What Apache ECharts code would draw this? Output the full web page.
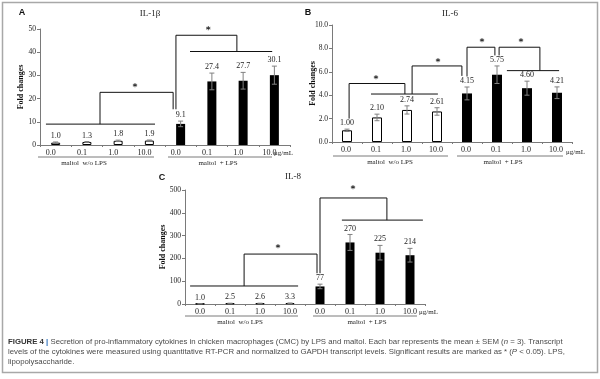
<!DOCTYPE html>
<html><head><meta charset="utf-8">
<script src="https://cdn.jsdelivr.net/npm/echarts@6/dist/echarts.min.js"></script>
<style>html,body{margin:0;padding:0;background:#fff}#c{width:600px;height:379px}</style>
</head><body><div id="c"></div><script>
// ---------- data ----------
const categories = ['0.0', '0.1', '1.0', '10.0', '0.0', '0.1', '1.0', '10.0'];
const lpsFlag = [0, 0, 0, 0, 1, 1, 1, 1];
const groupNames = ['maltol  w/o LPS', 'maltol  + LPS'];

const il1bValues = [1.0, 1.3, 1.8, 1.9, 9.1, 27.4, 27.7, 30.1];
const il1bErrors = [0.3, 0.2, 0.3, 0.25, 1.2, 3.6, 3.6, 3.9];
const il1bLabels = ['1.0', '1.3', '1.8', '1.9', '9.1', '27.4', '27.7', '30.1'];

const il6Values = [1.00, 2.10, 2.74, 2.61, 4.15, 5.75, 4.60, 4.21];
const il6Errors = [0.1, 0.28, 0.35, 0.32, 0.55, 0.75, 0.6, 0.5];
const il6Labels = ['1.00', '2.10', '2.74', '2.61', '4.15', '5.75', '4.60', '4.21'];

const il8Values = [1.0, 2.5, 2.6, 3.3, 77, 270, 225, 214];
const il8Errors = [0.5, 1, 1, 1.2, 10, 35, 32, 30];
const il8Labels = ['1.0', '2.5', '2.6', '3.3', '77', '270', '225', '214'];

const yTickLabelsA = ['0', '10', '20', '30', '40', '50'];
const yTickLabelsB = ['0.0', '2.0', '4.0', '6.0', '8.0', '10.0'];
const yTickLabelsC = ['0', '100', '200', '300', '400', '500'];

// significance brackets: [category position, value]
const bracketsA = [
  [[-0.31, 9.0], [3.18, 9.0]],
  [[1.42, 9.0], [1.42, 22.7], [3.76, 22.7], [3.76, 15.4]],
  [[3.85, 15.4], [3.85, 47.3], [5.8, 47.3], [5.8, 40.3]],
  [[4.3, 40.3], [6.93, 40.3]]
];
const starsA = [[2.54, 24.6], [4.88, 49.3]];

const bracketsB = [
  [[0.07, 2.0], [0.07, 5.0], [1.93, 5.0], [1.93, 4.1]],
  [[0.8, 4.1], [3.03, 4.1]],
  [[2.17, 4.1], [2.17, 6.5], [3.83, 6.5], [3.83, 5.65]],
  [[4.0, 5.6], [4.0, 8.1], [4.93, 8.1], [4.93, 7.4]],
  [[5.07, 7.4], [5.07, 8.1], [6.43, 8.1], [6.43, 6.1]],
  [[5.33, 6.1], [7.07, 6.1]]
];
const starsB = [[0.97, 5.3], [3.03, 6.8], [4.5, 8.5], [5.8, 8.5]];

const bracketsC = [
  [[-0.33, 79], [3.27, 79]],
  [[1.47, 79], [1.47, 219], [3.9, 219], [3.9, 135]],
  [[4.0, 135], [4.0, 465], [6.23, 465], [6.23, 368]],
  [[4.73, 368], [7.43, 368]]
];
const starsC = [[2.6, 245], [5.1, 500]];

// ---------- helpers ----------
const SERIF = '"Liberation Serif", "Times New Roman", serif';
const SANS = '"Liberation Sans", Arial, sans-serif';

function barData(values) {
  return values.map((v, i) => ({
    value: v,
    itemStyle: lpsFlag[i]
      ? { color: '#000', borderColor: '#000', borderWidth: 0 }
      : { color: '#fff', borderColor: '#000', borderWidth: 1 }
  }));
}
function errRender(labels) {
  return function (params, api) {
    const i = api.value(0), v = api.value(1), e = api.value(2);
    const t = api.coord([i, v + e]), b = api.coord([i, Math.max(0, v - e)]);
    const x = t[0], st = { stroke: '#808080', lineWidth: 1 };
    return {
      type: 'group', children: [
        { type: 'line', shape: { x1: x, y1: t[1], x2: x, y2: b[1] }, style: st },
        { type: 'line', shape: { x1: x - 2.5, y1: t[1], x2: x + 2.5, y2: t[1] }, style: st },
        { type: 'line', shape: { x1: x - 2.5, y1: b[1], x2: x + 2.5, y2: b[1] }, style: st },
        { type: 'text', x: x, y: t[1] - 2, style: { text: labels[params.dataIndex], align: 'center', verticalAlign: 'bottom', fontSize: 8, fontFamily: SERIF, fill: '#222' } }
      ]
    };
  };
}
function starRender(params, api) {
  const p = api.coord([api.value(0), api.value(1)]);
  return { type: 'text', x: p[0], y: p[1], style: { text: '*', align: 'center', verticalAlign: 'middle', fontSize: 9.5, fontFamily: '"DejaVu Sans", sans-serif', fontWeight: 'bold', fill: '#222' } };
}
function panel(idx, grid, yMax, yInt, tickLabels, nameGap, values, errors, labels, brackets, stars, labelShift) {
  const xAxes = [
    { type: 'category', gridIndex: idx, data: categories, boundaryGap: true,
      axisLine: { lineStyle: { color: '#7a7a7a', width: 1 } },
      axisTick: { show: true, length: 2, lineStyle: { color: '#7a7a7a' } },
      axisLabel: { fontSize: 8, fontFamily: SERIF, color: '#222', margin: 4, interval: 0,
        formatter: (v) => '{t|' + v + '}',
        rich: { t: { fontSize: 8, fontFamily: SERIF, color: '#222', padding: [0, labelShift * 2, 0, 0] } } } },
    { type: 'value', gridIndex: idx, min: -0.5, max: 7.5, show: false }
  ];
  const yAxis = { type: 'value', gridIndex: idx, min: 0, max: yMax, interval: yInt,
    name: 'Fold changes', nameLocation: 'middle', nameGap: nameGap, nameMoveOverlap: false,
    nameTextStyle: { fontSize: 8, fontWeight: 'bold', fontFamily: SERIF, color: '#111' },
    axisLine: { show: true, onZero: false, lineStyle: { color: '#7a7a7a', width: 1 } },
    axisTick: { show: true, length: 3, lineStyle: { color: '#7a7a7a' } },
    splitLine: { show: false },
    axisLabel: { fontSize: 7.5, fontFamily: SERIF, color: '#222', margin: 4,
      formatter: (v) => tickLabels[Math.round(v / yInt)] } };
  const series = [
    { type: 'bar', xAxisIndex: idx * 2, yAxisIndex: idx, data: barData(values), barWidth: grid.bw, silent: true },
    { type: 'custom', xAxisIndex: idx * 2, yAxisIndex: idx, renderItem: errRender(labels),
      data: values.map((v, i) => [i, v, errors[i]]), clip: false, z: 5 },
    { type: 'custom', xAxisIndex: idx * 2 + 1, yAxisIndex: idx, renderItem: starRender, data: stars, clip: false, z: 6 }
  ];
  brackets.forEach(br => series.push({
    type: 'line', xAxisIndex: idx * 2 + 1, yAxisIndex: idx, data: br, symbol: 'none', clip: false,
    lineStyle: { color: '#111', width: 1 }, silent: true, z: 4, animation: false
  }));
  return { xAxes, yAxis, series };
}

const grids = [
  { left: 40, top: 29, width: 250, height: 116, bw: 9 },
  { left: 332, top: 25, width: 240, height: 117, bw: 10 },
  { left: 185, top: 190, width: 240, height: 114, bw: 9 }
];
const pA = panel(0, grids[0], 50, 10, yTickLabelsA, 15, il1bValues, il1bErrors, il1bLabels, bracketsA, starsA, 5);
const pB = panel(1, grids[1], 10, 2, yTickLabelsB, 15, il6Values, il6Errors, il6Labels, bracketsB, starsB, 1);
const pC = panel(2, grids[2], 500, 100, yTickLabelsC, 18, il8Values, il8Errors, il8Labels, bracketsC, starsC, 0);

function txt(x, y, s, size, font, weight, color, align) {
  return { type: 'text', x: x, y: y, silent: true,
    style: { text: s, fontSize: size, fontFamily: font, fontWeight: weight || 'normal', fill: color || '#222', align: align || 'center', verticalAlign: 'middle' } };
}
function uline(x1, x2, y) {
  return { type: 'line', silent: true, shape: { x1: x1, y1: y, x2: x2, y2: y }, style: { stroke: '#7a7a7a', lineWidth: 1 } };
}

const graphics = [
  { type: 'rect', silent: true, shape: { x: 2.5, y: 2.5, width: 595, height: 370 }, style: { fill: 'none', stroke: '#a8a8a8', lineWidth: 1.5 } },
  txt(22, 13, 'A', 9, SANS, 'bold', '#111'),
  txt(308, 13, 'B', 9, SANS, 'bold', '#111'),
  txt(162, 178, 'C', 9, SANS, 'bold', '#111'),
  txt(150, 14, 'IL-1β', 9, SERIF, 'normal', '#222'),
  txt(450, 14, 'IL-6', 9, SERIF, 'normal', '#222'),
  txt(293, 177, 'IL-8', 9, SERIF, 'normal', '#222'),
  // panel A group labels
  uline(38, 154, 157), uline(168, 272, 157),
  txt(84, 163, groupNames[0], 7, SERIF), txt(218, 163, groupNames[1], 7, SERIF),
  txt(274, 153, 'μg/mL', 7, SERIF, 'normal', '#222', 'left'),
  // panel B
  uline(333, 448, 156), uline(457, 563, 156),
  txt(390, 162, groupNames[0], 7, SERIF), txt(503, 162, groupNames[1], 7, SERIF),
  txt(566, 152, 'μg/mL', 7, SERIF, 'normal', '#222', 'left'),
  // panel C
  uline(185, 298, 316), uline(313, 417, 316),
  txt(240, 322, groupNames[0], 7, SERIF), txt(367, 322, groupNames[1], 7, SERIF),
  txt(419, 312, 'μg/mL', 7, SERIF, 'normal', '#222', 'left'),
  // caption
  { type: 'text', x: 8, y: 337, silent: true, style: {
      text: '{b|FIGURE 4} {p||} Secretion of pro-inflammatory cytokines in chicken macrophages (CMC) by LPS and maltol. Each bar represents the mean ± SEM ({i|n} = 3). Transcript\n' +
            'levels of the cytokines were measured using quantitative RT-PCR and normalized to GAPDH transcript levels. Significant results are marked as * ({i|P} < 0.05). LPS,\n' +
            'lipopolysaccharide.',
      fontSize: 7.8, fontFamily: SANS, fill: '#4a4a4a', lineHeight: 10, align: 'left', verticalAlign: 'top',
      rich: {
        b: { fontSize: 7.8, fontFamily: SANS, fontWeight: 'bold', fill: '#333', lineHeight: 10 },
        p: { fontSize: 7.8, fontFamily: SANS, fontWeight: 'bold', fill: '#2a6ebb', lineHeight: 10 },
        i: { fontSize: 7.8, fontFamily: SANS, fontStyle: 'italic', fill: '#4a4a4a', lineHeight: 10 }
      } } }
];

const chart = echarts.init(document.getElementById('c'), null, { renderer: 'canvas' });
chart.setOption({
  animation: false,
  backgroundColor: '#fff',
  grid: grids.map(g => ({ left: g.left, top: g.top, width: g.width, height: g.height, containLabel: false })),
  xAxis: [].concat(pA.xAxes, pB.xAxes, pC.xAxes),
  yAxis: [pA.yAxis, pB.yAxis, pC.yAxis],
  series: [].concat(pA.series, pB.series, pC.series),
  graphic: graphics
});
</script></body></html>
